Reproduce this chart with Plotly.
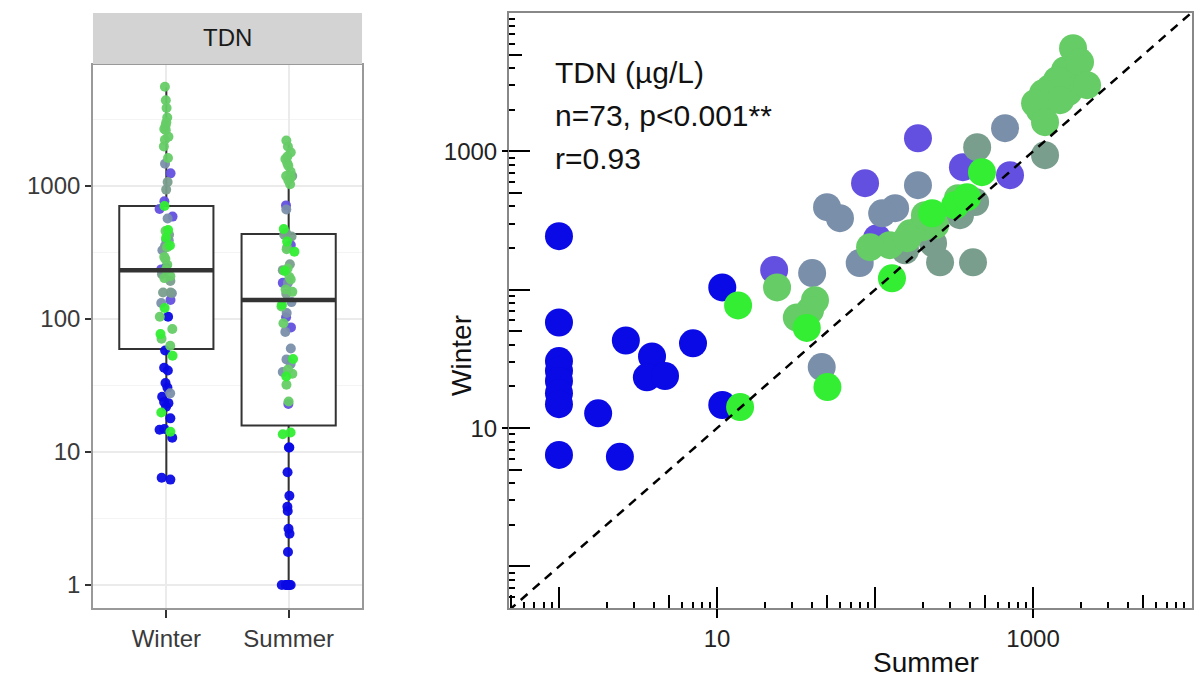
import plotly.graph_objects as go

# ---------------- data ----------------
categories = ["Winter", "Summer"]

# paired samples: summer (x) vs winter (y) TDN, µg/L, with colour group
summer = [1.0, 1.0, 1.0, 1.0, 1.0, 1.0, 1.0, 1.0, 1.77, 2.43, 2.65, 3.88, 3.6, 4.69, 7.05, 10.8, 10.8,
          187, 86.5, 103, 23, 360, 715,
          665, 49.7, 60, 187, 134, 80, 40, 46, 111,
          443, 1191, 430, 258, 417, 233, 155, 345,
          1596, 1282, 1667, 1107, 240, 124, 41.7,
          1791, 1983, 2197, 1419, 1157, 1483, 1030, 1191, 335, 198, 167, 160, 93, 24, 38.8, 32, 207,
          321, 475, 382, 230, 128, 37, 50, 14, 13.6]
winter = [244, 58, 30.5, 26, 21.9, 17.9, 14.9, 6.4, 12.8, 6.2, 43, 33, 23.3, 23.8, 41, 14.7, 104,
          1245, 589, 236, 139, 769, 673,
          1472, 395, 329, 570, 389, 156, 132, 27.6, 357,
          1072, 940, 430, 158, 158, 217, 193, 346,
          3860, 2864, 2680, 1986, 293, 210, 84,
          5570, 4420, 3010, 3270, 2630, 2344, 2229, 1626, 459, 283, 256, 236, 203, 104, 71, 63, 346,
          408, 708, 467, 357, 121, 53, 19.8, 14.2, 77]
group = (["B"] * 17 + ["P"] * 6 + ["GB"] * 9 + ["GG"] * 8 + ["LG"] * 7 + ["LG"] * 17 + ["BG"] * 9)

group_order = ["B", "P", "GB", "GG", "LG", "BG"]
group_colors = {"B": "#0A0AE6", "P": "#6450E0", "GB": "#7A8FAA",
                "GG": "#7A9E8E", "LG": "#66CC66", "BG": "#33EE33"}

# box statistics
box_q1 = [59.5, 15.8]
box_median = [233, 139]
box_q3 = [708, 436]
box_lower = [6.2, 1.0]
box_upper = [5500, 2150]

stats_lines = ["TDN (µg/L)", "n=73, p<0.001**", "r=0.93"]
strip_label = "TDN"
x_title = "Summer"
y_title = "Winter"

FONT = "Liberation Sans, Arial, sans-serif"
BOX_W = 0.77

fig = go.Figure()

# ---------------- left panel ----------------
fig.add_trace(go.Box(
    x=[0, 1], q1=box_q1, median=box_median, q3=box_q3,
    lowerfence=box_lower, upperfence=box_upper,
    width=BOX_W, whiskerwidth=0, fillcolor="white",
    line=dict(color="#333333", width=2), boxpoints=False,
    xaxis="x", yaxis="y", showlegend=False, hoverinfo="skip"))

for i, m in enumerate(box_median):
    fig.add_trace(go.Scatter(
        x=[i - BOX_W / 2, i + BOX_W / 2], y=[m, m], mode="lines",
        line=dict(color="#333333", width=4.5), xaxis="x", yaxis="y",
        showlegend=False, hoverinfo="skip"))

for g in group_order:
    w = [v for v, gg in zip(winter, group) if gg == g]
    s = [v for v, gg in zip(summer, group) if gg == g]
    fig.add_trace(go.Box(
        x=[0] * len(w) + [1] * len(s), y=w + s,
        boxpoints="all", jitter=0.17, pointpos=0, width=BOX_W, whiskerwidth=0,
        fillcolor="rgba(0,0,0,0)", line=dict(width=0, color="rgba(0,0,0,0)"),
        marker=dict(color=group_colors[g], size=10, opacity=0.95),
        xaxis="x", yaxis="y", showlegend=False, hoveron="points"))

# ---------------- right panel ----------------
fig.add_trace(go.Scatter(
    x=summer, y=winter, mode="markers",
    marker=dict(color=[group_colors[g] for g in group], size=28, line=dict(width=0)),
    xaxis="x2", yaxis="y2", showlegend=False))

one_to_one = [0.2, 30000]
fig.add_trace(go.Scatter(
    x=one_to_one, y=one_to_one, mode="lines",
    line=dict(color="black", width=2.5, dash="9px,7px"),
    xaxis="x2", yaxis="y2", showlegend=False, hoverinfo="skip"))

# empty helper traces for the overlay tick axes
for xa, ya in [("x3", "y2"), ("x4", "y2"), ("x2", "y3"), ("x2", "y4")]:
    fig.add_trace(go.Scatter(x=[], y=[], xaxis=xa, yaxis=ya, showlegend=False))

decades = [0.1, 1, 10, 100, 1000, 10000]
minor_vals = [m * d for d in decades for m in (2, 3, 4, 6, 7, 8, 9)]
mid_vals = [5 * d for d in decades]
label_vals = [10, 1000]

XR = [-0.316, 4.006]
YR = [-0.30, 4.0]

common_log = dict(type="log", showgrid=False, zeroline=False)

fig.update_layout(
    width=1198, height=687, margin=dict(l=0, r=0, t=0, b=0),
    paper_bgcolor="white", plot_bgcolor="white",
    boxmode="overlay", font=dict(family=FONT, color="#222"),
    xaxis=dict(domain=[0.0776, 0.3022], anchor="y", range=[-0.6, 1.6],
               tickvals=[0, 1], ticktext=categories, ticks="outside", ticklen=8,
               tickwidth=2, tickcolor="#333", showgrid=True, gridcolor="#EBEBEB",
               gridwidth=1.5, showline=True, mirror=True, linecolor="#999",
               linewidth=1.5, zeroline=False,
               tickfont=dict(size=24, color="#3A3A3A", family=FONT)),
    yaxis=dict(domain=[0.115, 0.9054], anchor="x", type="log", range=[-0.173, 3.91],
               tickvals=[1, 10, 100, 1000], ticktext=["1", "10", "100", "1000"],
               ticks="outside", ticklen=6, tickwidth=2, tickcolor="#333",
               showgrid=True, gridcolor="#EBEBEB", gridwidth=1.5,
               minor=dict(tickvals=[10 ** (k + 0.5) for k in range(-1, 4)],
                          showgrid=True, gridcolor="#F4F4F4", gridwidth=1.2, ticks=""),
               showline=True, mirror=True, linecolor="#999", linewidth=1.5,
               zeroline=False, tickfont=dict(size=24, color="#3A3A3A", family=FONT)),
    xaxis2=dict(domain=[0.4249, 0.995], anchor="y2", range=XR, tickvals=decades,
                showticklabels=False, ticks="inside", ticklen=21, tickwidth=2,
                tickcolor="black",
                minor=dict(tickvals=minor_vals, ticks="inside", ticklen=6,
                           tickwidth=2, tickcolor="black"),
                showline=True, mirror=True, linecolor="#888", linewidth=1.5,
                **common_log),
    xaxis3=dict(overlaying="x2", anchor="y2", range=XR, tickvals=mid_vals,
                showticklabels=False, ticks="inside", ticklen=13, tickwidth=2,
                tickcolor="black", showline=False, **common_log),
    xaxis4=dict(overlaying="x2", anchor="y2", range=XR, tickvals=label_vals,
                ticktext=[str(v) for v in label_vals], ticks="outside", ticklen=9,
                tickwidth=2, tickcolor="black", showline=False,
                tickfont=dict(size=24, color="#222", family=FONT), **common_log),
    yaxis2=dict(domain=[0.115, 0.981], anchor="x2", range=YR, tickvals=decades,
                showticklabels=False, ticks="inside", ticklen=21, tickwidth=2,
                tickcolor="black",
                minor=dict(tickvals=minor_vals, ticks="inside", ticklen=6,
                           tickwidth=2, tickcolor="black"),
                showline=True, mirror=True, linecolor="#888", linewidth=1.5,
                **common_log),
    yaxis3=dict(overlaying="y2", anchor="x2", range=YR, tickvals=mid_vals,
                showticklabels=False, ticks="inside", ticklen=13, tickwidth=2,
                tickcolor="black", showline=False, **common_log),
    yaxis4=dict(overlaying="y2", anchor="x2", range=YR, tickvals=label_vals,
                ticktext=[str(v) for v in label_vals], ticks="outside", ticklen=6,
                tickwidth=2, tickcolor="black", showline=False,
                tickfont=dict(size=24, color="#222", family=FONT), **common_log),
)

# facet strip
fig.add_shape(type="rect", xref="paper", yref="paper", x0=0.0776, x1=0.3022,
              y0=0.9068, y1=0.981, fillcolor="#D3D3D3", line=dict(width=0))
fig.add_annotation(text=strip_label, xref="paper", yref="paper", x=0.1899, y=0.9447,
                   xanchor="center", yanchor="middle", showarrow=False,
                   font=dict(size=24, color="#1A1A1A", family=FONT))

# stats text
for txt, yy in zip(stats_lines, [0.895, 0.8326, 0.770]):
    fig.add_annotation(text=txt, xref="paper", yref="paper", x=0.4616, y=yy,
                       xanchor="left", yanchor="middle", showarrow=False,
                       font=dict(size=30, color="#111", family=FONT))

# axis titles
fig.add_annotation(text=y_title, xref="paper", yref="paper", x=0.3856, y=0.4833,
                   xanchor="center", yanchor="middle", textangle=-90, showarrow=False,
                   font=dict(size=28, color="#111", family=FONT))
fig.add_annotation(text=x_title, xref="paper", yref="paper", x=0.773, y=0.035,
                   xanchor="center", yanchor="middle", showarrow=False,
                   font=dict(size=28, color="#111", family=FONT))

fig.write_html("out.html", config={"displayModeBar": False},
               post_script="document.body.style.margin='0px';")
